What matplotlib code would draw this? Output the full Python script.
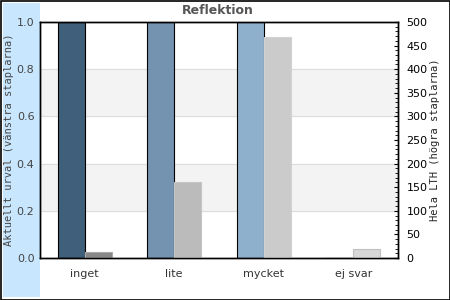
import matplotlib
matplotlib.use("Agg")
import matplotlib.pyplot as plt
from matplotlib.patches import Rectangle
from matplotlib.ticker import MultipleLocator
import numpy as np

categories = ["inget", "lite", "mycket", "ej svar"]
urval = [1.0, 1.0, 1.0, 0.0]          # left axis
hela_lth = [13, 160, 468, 19]         # right axis
left_colors = ["#3f5f7a", "#7393b0", "#8fb0cc", "#b0cde3"]
right_colors = ["#888888", "#bbbbbb", "#cbcbcb", "#d8d8d8"]
right_edges = ["#aaaaaa", "#c4c4c4", "#d2d2d2", "#c0c0c0"]

fig = plt.figure(figsize=(4.5, 3), dpi=100)
W, H = 450, 300

# light blue side panel and outer border
fig.patches.append(Rectangle((3 / W, 3 / H), 37 / W, 294 / H, transform=fig.transFigure,
                             facecolor="#c8e7fe", edgecolor="none", zorder=-5))
fig.patches.append(Rectangle((0.5 / W, 0.5 / H), 449 / W, 299 / H, transform=fig.transFigure,
                             facecolor="none", edgecolor="black", lw=1.2, zorder=5))

ax = fig.add_axes([40 / W, 42 / H, 358 / W, 236 / H])
ax.set_facecolor("white")
ax.set_xlim(0, 4)
ax.set_ylim(0, 1)

# alternating bands and grid lines
for y0 in [0.2, 0.6]:
    ax.axhspan(y0, y0 + 0.2, color="#f3f3f3", zorder=0)
for y in [0.2, 0.4, 0.6, 0.8]:
    ax.axhline(y, color="#dddddd", lw=0.8, zorder=0.5)

x = np.arange(len(categories)) + 0.5
bw = 27 / 89.5
ax.bar(x - bw / 2, urval, width=bw, color=left_colors, edgecolor="black", lw=0.8, zorder=2)

ax2 = ax.twinx()
ax2.set_ylim(0, 500)
ax2.bar(x + bw / 2, hela_lth, width=bw, color=right_colors, edgecolor=right_edges, lw=0.8, zorder=2)

ax.set_xticks(x)
ax.set_xticklabels(categories, fontsize=8, color="#333333")
ax.tick_params(axis="x", length=0, pad=8)
ax.set_yticks(np.arange(0, 1.01, 0.2))
ax.set_yticklabels(["%.1f" % v for v in np.arange(0, 1.01, 0.2)], fontsize=8, color="#444444")
ax.tick_params(axis="y", length=0, pad=4)

ax2.yaxis.set_major_locator(MultipleLocator(50))
ax2.yaxis.set_minor_locator(MultipleLocator(10))
ax2.tick_params(axis="y", which="major", direction="in", length=3, width=0.8, labelsize=8, pad=6)
ax2.tick_params(axis="y", which="minor", direction="in", length=2, width=0.6)

for a in (ax, ax2):
    for s in a.spines.values():
        s.set_linewidth(1.0)
        s.set_color("black")

ax.set_ylabel("Aktuellt urval (vänstra staplarna)", family="DejaVu Sans Mono",
              fontsize=7.5, color="#444444", labelpad=2)
ax2.set_ylabel("Hela LTH (högra staplarna)", family="DejaVu Sans Mono",
               fontsize=7.5, color="#222222", labelpad=2)

fig.text(218 / W, 1 - 11 / H, "Reflektion", ha="center", va="center",
         fontsize=9, fontweight="bold", color="#555555")

fig.savefig("out.png", dpi=100)
